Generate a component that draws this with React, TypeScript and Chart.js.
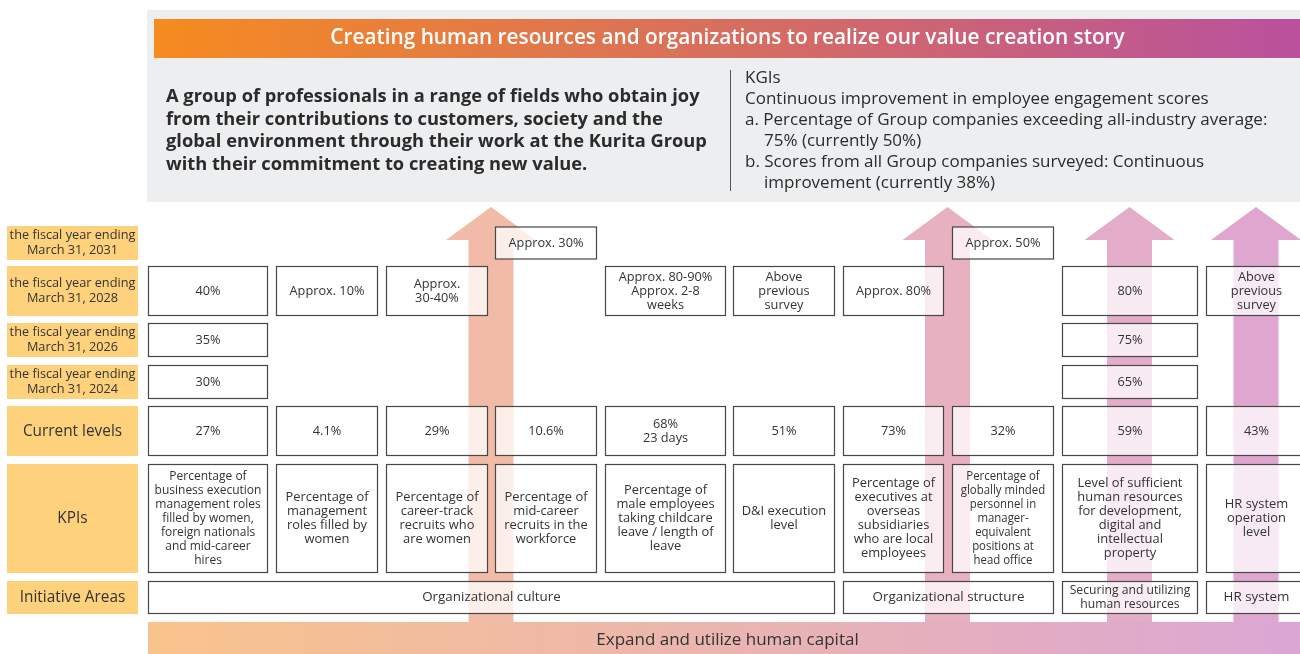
import { useEffect, useRef } from 'react';
import { Chart, registerables } from 'chart.js';

Chart.register(...registerables);

// ---------------- DATA ----------------
const titleText = 'Creating human resources and organizations to realize our value creation story';
const visionLines = [
  'A group of professionals in a range of fields who obtain joy',
  'from their contributions to customers, society and the',
  'global environment through their work at the Kurita Group',
  'with their commitment to creating new value.',
];
const kgiLines = [
  'KGIs',
  'Continuous improvement in employee engagement scores',
  'a. Percentage of Group companies exceeding all-industry average:',
  '75% (currently 50%)',
  'b. Scores from all Group companies surveyed: Continuous',
  'improvement (currently 38%)',
];
const kgiIndented = [false, false, false, true, false, true];
const bottomText = 'Expand and utilize human capital';

const rowLabels = [
  'the fiscal year ending\nMarch 31, 2031',
  'the fiscal year ending\nMarch 31, 2028',
  'the fiscal year ending\nMarch 31, 2026',
  'the fiscal year ending\nMarch 31, 2024',
  'Current levels',
  'KPIs',
  'Initiative Areas',
];

const target2031 = ['', '', '', 'Approx. 30%', '', '', '', 'Approx. 50%', '', ''];
const target2028 = [
  '40%', 'Approx. 10%', 'Approx.\n30-40%', '', 'Approx. 80-90%\nApprox. 2-8\nweeks',
  'Above\nprevious\nsurvey', 'Approx. 80%', '', '80%', 'Above\nprevious\nsurvey',
];
const target2026 = ['35%', '', '', '', '', '', '', '', '75%', ''];
const target2024 = ['30%', '', '', '', '', '', '', '', '65%', ''];
const currentLevels = ['27%', '4.1%', '29%', '10.6%', '68%\n23 days', '51%', '73%', '32%', '59%', '43%'];
const kpis = [
  'Percentage of\nbusiness execution\nmanagement roles\nfilled by women,\nforeign nationals\nand mid-career\nhires',
  'Percentage of\nmanagement\nroles filled by\nwomen',
  'Percentage of\ncareer-track\nrecruits who\nare women',
  'Percentage of\nmid-career\nrecruits in the\nworkforce',
  'Percentage of\nmale employees\ntaking childcare\nleave / length of\nleave',
  'D&I execution\nlevel',
  'Percentage of\nexecutives at\noverseas\nsubsidiaries\nwho are local\nemployees',
  'Percentage of\nglobally minded\npersonnel in\nmanager-\nequivalent\npositions at\nhead office',
  'Level of sufficient\nhuman resources\nfor development,\ndigital and\nintellectual\nproperty',
  'HR system\noperation\nlevel',
];
const initiativeAreas = ['Organizational culture', 'Organizational structure', 'Securing and utilizing\nhuman resources', 'HR system'];
const initiativeSpans = [6, 2, 1, 1];

// ---------------- LAYOUT / STYLE ----------------
const W = 1300;
const H = 654;
const colL = [148, 276, 386, 495, 605, 733, 843, 952, 1062, 1206];
const colR = [267, 377, 487, 596, 725, 834, 943, 1053, 1197, 1306];
const rowTop = [226, 266, 323, 365, 406, 464, 581];
const rowBot = [260, 316, 357, 399, 456, 573, 614];
const kpiFont = [12, 13.3, 13.3, 13.3, 13.3, 13.3, 13.3, 12, 13.3, 13.3];
const kpiSqueeze = [1, 0.97, 0.97, 0.97, 0.97, 0.97, 0.97, 0.95, 0.97, 0.97];
const arrowColors = ['#f2bba7', '#e8b1c0', '#e3acc9', '#dfa7cf'];
const FONT = '"Open Sans", "Noto Sans", sans-serif';

type Ctx = CanvasRenderingContext2D;

function drawLines(
  ctx: Ctx, lines: string[], x: number, cy: number, size: number, weight: number,
  lh: number, color: string, sx: number, align: CanvasTextAlign = 'center'
) {
  ctx.save();
  ctx.font = `${weight} ${size}px ${FONT}`;
  ctx.fillStyle = color;
  ctx.textBaseline = 'middle';
  ctx.textAlign = align;
  const n = lines.length;
  lines.forEach((l, i) => {
    const y = cy + (i - (n - 1) / 2) * lh;
    ctx.save();
    ctx.translate(x, y);
    ctx.scale(sx, 1);
    ctx.fillText(l, 0, 0);
    ctx.restore();
  });
  ctx.restore();
}

const infographic = {
  id: 'infographic',
  beforeDatasetsDraw(chart: any) {
    const ctx: Ctx = chart.ctx;
    const xs = chart.scales.x;
    const ys = chart.scales.y;
    const px = (v: number) => xs.getPixelForValue(v);
    const py = (v: number) => ys.getPixelForValue(v);
    const text = '#333333';

    ctx.save();
    // header panel
    ctx.fillStyle = '#edeef0';
    ctx.fillRect(px(147), py(10), px(1300) - px(147), py(202) - py(10));
    // title band
    const tg = ctx.createLinearGradient(px(154), 0, px(1300), 0);
    tg.addColorStop(0, '#f68b1f');
    tg.addColorStop(1, '#b9519e');
    ctx.fillStyle = tg;
    ctx.fillRect(px(154), py(19), px(1300) - px(154), py(58) - py(19));
    drawLines(ctx, [titleText], px(727.5), py(38.5), 20.8, 600, 22, '#ffffff', 1);

    // vision text
    visionLines.forEach((l, i) => {
      drawLines(ctx, [l], px(166), py(97 + i * 22.5), 18.3, 700, 22, '#2b2b2b', 1, 'left');
    });
    // divider
    ctx.strokeStyle = '#555';
    ctx.lineWidth = 1;
    ctx.beginPath();
    ctx.moveTo(px(730) + 0.5, py(70));
    ctx.lineTo(px(730) + 0.5, py(191));
    ctx.stroke();
    kgiLines.forEach((l, i) => {
      drawLines(ctx, [l], px(kgiIndented[i] ? 764 : 745), py(78 + i * 21), 17, 400, 20, '#2b2b2b', 1, 'left');
    });

    // row labels
    rowLabels.forEach((lab, r) => {
      ctx.fillStyle = '#fed17c';
      ctx.fillRect(px(7), py(rowTop[r]), px(138) - px(7), py(rowBot[r]) - py(rowTop[r]));
      const lines = lab.split('\n');
      const cy = (py(rowTop[r]) + py(rowBot[r])) / 2;
      if (lines.length > 1) drawLines(ctx, lines, px(72.5), cy, 13.4, 400, 15, text, 0.95);
      else drawLines(ctx, lines, px(72.5), cy, 16, 400, 16, text, 0.96);
    });

    // bottom band
    const bg = ctx.createLinearGradient(px(148), 0, px(1300), 0);
    bg.addColorStop(0, '#f9c48c');
    bg.addColorStop(1, '#dba6d4');

    // arrows
    const arrowCenters = [
      (colR[2] + colL[3]) / 2,
      (colR[6] + colL[7]) / 2,
      (colL[8] + colR[8]) / 2,
      (colL[9] + colR[9]) / 2,
    ];
    arrowCenters.forEach((c, i) => {
      ctx.fillStyle = arrowColors[i];
      ctx.beginPath();
      ctx.moveTo(px(c), py(207));
      ctx.lineTo(px(c + 45), py(240));
      ctx.lineTo(px(c + 22.5), py(240));
      ctx.lineTo(px(c + 22.5), py(622));
      ctx.lineTo(px(c - 22.5), py(622));
      ctx.lineTo(px(c - 22.5), py(240));
      ctx.lineTo(px(c - 45), py(240));
      ctx.closePath();
      ctx.fill();
    });

    ctx.fillStyle = bg;
    ctx.fillRect(px(148), py(622), px(1300) - px(148), py(654) - py(622));
    drawLines(ctx, [bottomText], px(727.5), py(640), 17, 400, 18, text, 1);

    // cells
    const cell = (x0: number, x1: number, r: number, label: string, size = 13, sx = 1, inset = 0) => {
      const t = py(rowTop[r] + 0.5 + inset);
      const b = py(rowBot[r] - 0.5 - inset);
      const l = px(x0) + 0.5;
      const rr = px(x1) + 0.5;
      ctx.fillStyle = 'rgba(255,255,255,0.76)';
      ctx.fillRect(l, t, rr - l, b - t);
      ctx.strokeStyle = '#474747';
      ctx.lineWidth = 1.2;
      ctx.strokeRect(l, t, rr - l, b - t);
      drawLines(ctx, label.split('\n'), (l + rr) / 2, (t + b) / 2, size, 400, 14, text, sx);
    };
    const rowsData = [target2031, target2028, target2026, target2024, currentLevels];
    rowsData.forEach((arr, r) => {
      arr.forEach((v, c) => {
        if (v) cell(colL[c], colR[c], r, v, 13, 0.98, r === 0 ? 0.5 : 0);
      });
    });
    kpis.forEach((v, c) => cell(colL[c], colR[c], 5, v, kpiFont[c], kpiSqueeze[c]));
    let start = 0;
    initiativeAreas.forEach((v, i) => {
      const end = start + initiativeSpans[i] - 1;
      const multi = v.includes('\n');
      cell(colL[start], colR[end], 6, v, multi ? 12.8 : 13.4, multi ? 0.95 : 1);
      start = end + 1;
    });
    ctx.restore();
  },
};

export default function App() {
  const ref = useRef<HTMLCanvasElement | null>(null);
  useEffect(() => {
    if (!ref.current) return;
    const chart = new Chart(ref.current, {
      type: 'scatter',
      data: { datasets: [{ data: [] }] },
      options: {
        animation: false,
        responsive: true,
        maintainAspectRatio: false,
        layout: { padding: 0 },
        plugins: { legend: { display: false }, tooltip: { enabled: false } },
        scales: {
          x: { type: 'linear', min: 0, max: W, display: false },
          y: { type: 'linear', min: 0, max: H, reverse: true, display: false },
        },
      },
      plugins: [infographic],
    });
    return () => chart.destroy();
  }, []);
  return (
    <div style={{ position: 'absolute', left: 0, top: 0, width: W, height: H, background: '#ffffff' }}>
      <canvas ref={ref} />
    </div>
  );
}
